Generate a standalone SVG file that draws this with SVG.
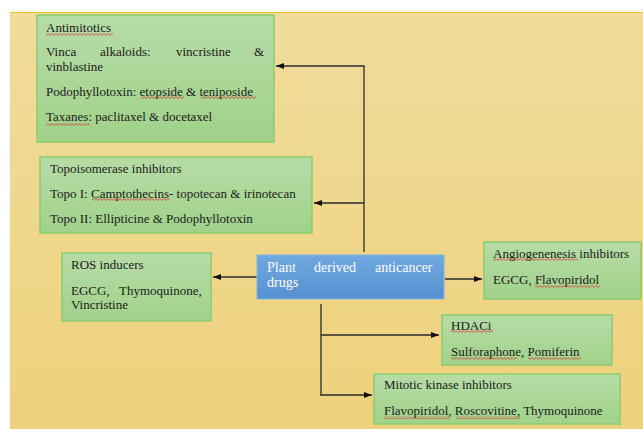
<svg xmlns="http://www.w3.org/2000/svg" width="643" height="429" viewBox="0 0 643 429">
<defs>
<linearGradient id="bg" x1="0" y1="0" x2="0" y2="1">
<stop offset="0" stop-color="#F1DC9B"/>
<stop offset="1" stop-color="#EDD17C"/>
</linearGradient>
<linearGradient id="gr" x1="0" y1="0" x2="0" y2="1">
<stop offset="0" stop-color="#B7DCA7"/>
<stop offset="1" stop-color="#A0D28A"/>
</linearGradient>
<linearGradient id="bl" x1="0" y1="0" x2="0" y2="1">
<stop offset="0" stop-color="#71A8E0"/>
<stop offset="1" stop-color="#5590D1"/>
</linearGradient>
<pattern id="sq" width="4" height="3" patternUnits="userSpaceOnUse">
<path d="M0,0.6 L2,2.4 L4,0.6" fill="none" stroke="#E03030" stroke-width="0.8"/>
</pattern>
<marker id="ah" markerWidth="8" markerHeight="6" refX="8" refY="3" orient="auto" markerUnits="userSpaceOnUse">
<path d="M0,0 L8,3 L0,6 Z" fill="#111"/>
</marker>
<style>
.box{fill:url(#gr);stroke:#8CCB70;stroke-width:1.5}
.blue{fill:url(#bl);stroke:#82B4E4;stroke-width:1}
text{font-family:"Liberation Serif","Times New Roman",serif;font-size:13px;fill:#1b1b1b}
.w{fill:#fff;font-size:14px}
.sq{fill:url(#sq)}
.c{fill:none;stroke:#2a2a2a;stroke-width:1.3}
.a{marker-end:url(#ah)}
</style>
</defs>
<rect x="10" y="12" width="633" height="417" fill="url(#bg)"/>
<line x1="10" y1="12.5" x2="643" y2="12.5" stroke="#E9C233" stroke-width="1"/>

<g id="connectors">
<path class="c" d="M364,252 V66"/>
<path class="c a" d="M364.6,66 H276"/>
<path class="c a" d="M364,203 H314"/>
<path class="c a" d="M257,277 H213"/>
<path class="c a" d="M445,279 H482"/>
<path class="c" d="M321,304 V396"/>
<path class="c a" d="M321,335 H439"/>
<path class="c a" d="M321,395 H372"/>
</g>

<g id="antimitotics">
<rect class="box" x="37" y="15" width="237" height="127"/>
<text x="46" y="32">Antimitotics</text>
<text y="56"><tspan x="46">Vinca</tspan><tspan x="100">alkaloids:</tspan><tspan x="176">vincristine</tspan><tspan x="254">&amp;</tspan></text>
<text x="46" y="71">vinblastine</text>
<text x="46" y="96">Podophyllotoxin: etopside &amp; teniposide</text>
<text x="46" y="121">Taxanes: paclitaxel &amp; docetaxel</text>
<rect class="sq" x="46" y="33" width="67" height="3"/>
<rect class="sq" x="141" y="96" width="43" height="3"/>
<rect class="sq" x="201" y="96" width="55" height="3"/>
<rect class="sq" x="46" y="123" width="44" height="3"/>
</g>

<g id="topoisomerase">
<rect class="box" x="40" y="157" width="272" height="76"/>
<text x="50" y="173">Topoisomerase inhibitors</text>
<text x="50" y="198">Topo I: Camptothecins- topotecan &amp; irinotecan</text>
<text x="50" y="223">Topo II: Ellipticine &amp; Podophyllotoxin</text>
<rect class="sq" x="92" y="198" width="78" height="3"/>
</g>

<g id="ros">
<rect class="box" x="62" y="253" width="149" height="68"/>
<text x="71" y="269">ROS inducers</text>
<text y="295"><tspan x="71">EGCG,</tspan><tspan x="119">Thymoquinone,</tspan></text>
<text x="71" y="309">Vincristine</text>
</g>

<g id="plant">
<rect class="blue" x="257" y="255" width="187" height="44"/>
<text class="w" y="272"><tspan x="267">Plant</tspan><tspan x="314">derived</tspan><tspan x="375">anticancer</tspan></text>
<text class="w" x="267" y="287">drugs</text>
</g>

<g id="angiogenesis">
<rect class="box" x="484" y="242" width="157" height="57"/>
<text x="493" y="258">Angiogenenesis inhibitors</text>
<text x="493" y="284">EGCG, Flavopiridol</text>
<rect class="sq" x="493" y="258" width="85" height="3"/>
<rect class="sq" x="535" y="285" width="65" height="3"/>
</g>

<g id="hdaci">
<rect class="box" x="442" y="315" width="170" height="50"/>
<text x="451" y="330">HDACi</text>
<text x="451" y="356">Sulforaphone, Pomiferin</text>
<rect class="sq" x="451" y="330" width="42" height="3"/>
<rect class="sq" x="451" y="357" width="66" height="3"/>
<rect class="sq" x="528" y="357" width="53" height="3"/>
</g>

<g id="mitotic">
<rect class="box" x="374" y="374" width="246" height="50"/>
<text x="384" y="389">Mitotic kinase inhibitors</text>
<text x="384" y="415">Flavopiridol, Roscovitine, Thymoquinone</text>
<rect class="sq" x="384" y="416" width="66" height="3"/>
<rect class="sq" x="456" y="416" width="64" height="3"/>
</g>
</svg>
